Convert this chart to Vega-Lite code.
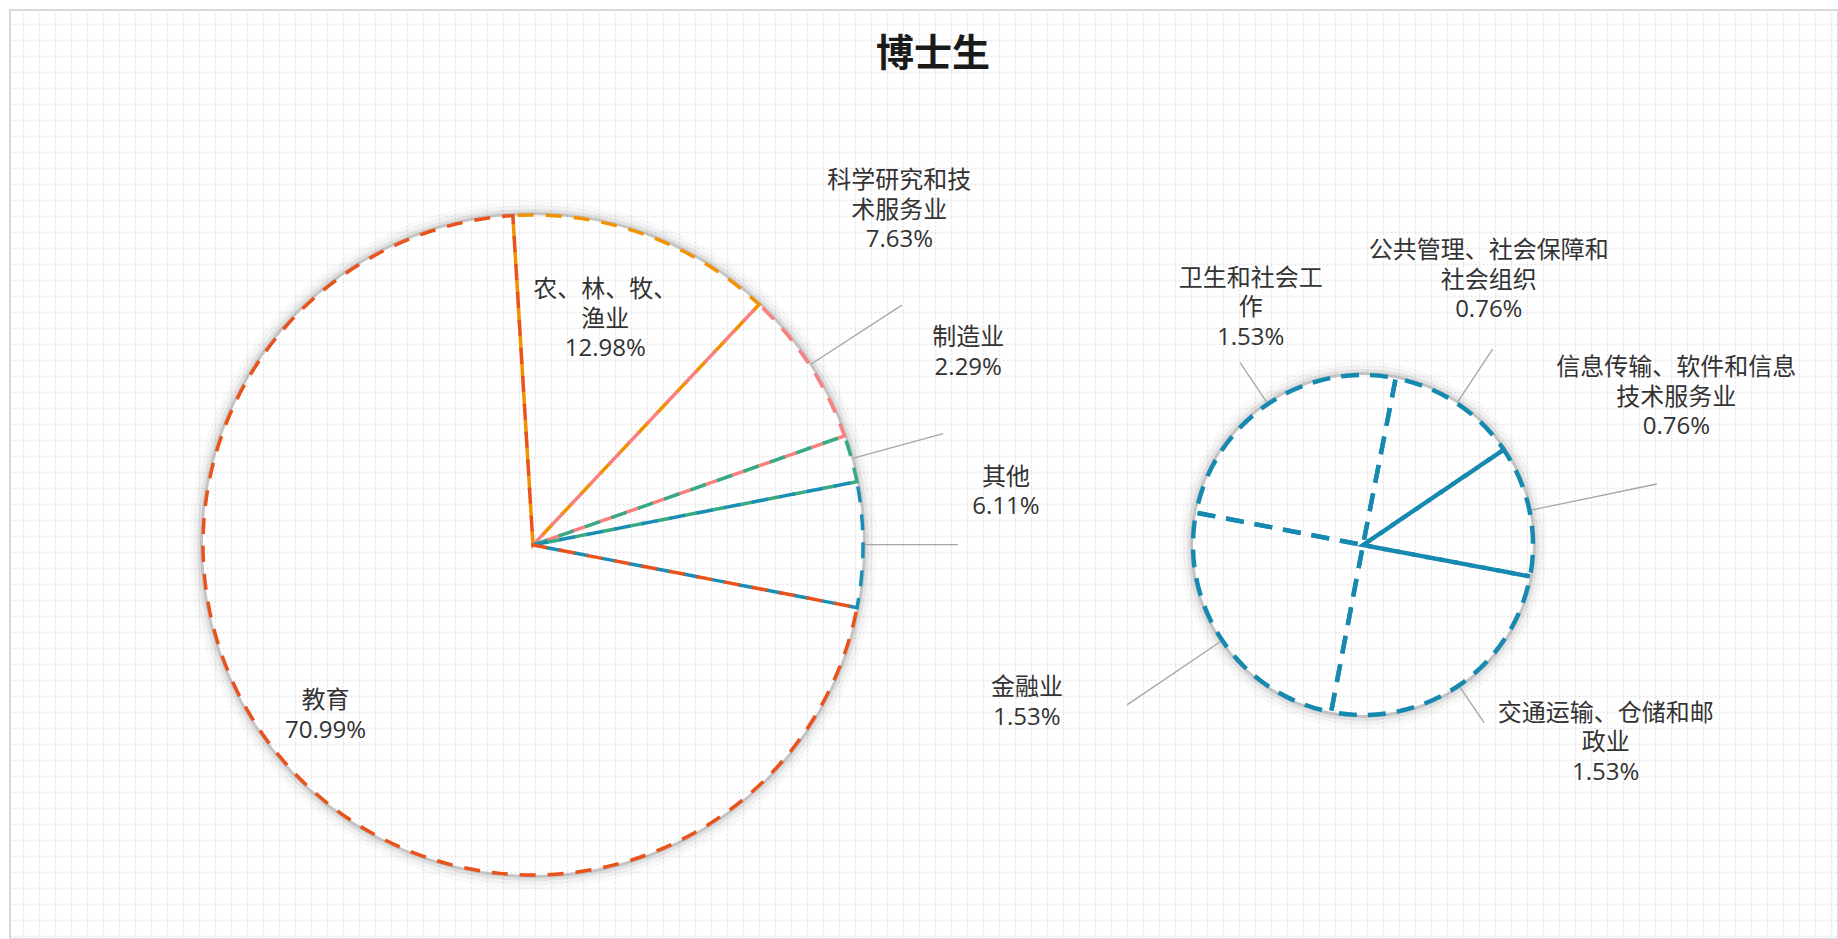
{
  "$schema": "https://vega.github.io/schema/vega-lite/v6.json",
  "width": 1828,
  "height": 929,
  "autosize": {"type": "none"},
  "padding": {"left": 10, "top": 10, "right": 0, "bottom": 0},
  "background": "white",
  "config": {"view": {"stroke": "#d9d9d9", "strokeWidth": 2}},
  "title": {
    "text": "博士生",
    "font": "Noto Sans CJK SC",
    "fontSize": 38,
    "fontWeight": "bold",
    "color": "#1a1a1a",
    "anchor": "middle",
    "offset": -64,
    "dx": 9
  },
  "data": {
    "values": [
      {"饼图": "主", "序": 1, "行业": "农、林、牧、\n渔业", "占比": 0.1298},
      {"饼图": "主", "序": 2, "行业": "科学研究和技\n术服务业", "占比": 0.0763},
      {"饼图": "主", "序": 3, "行业": "制造业", "占比": 0.0229},
      {"饼图": "主", "序": 4, "行业": "其他", "占比": 0.0611},
      {"饼图": "主", "序": 5, "行业": "教育", "占比": 0.7099},
      {"饼图": "子", "序": 1, "行业": "公共管理、社会保障和\n社会组织", "占比": 0.0076},
      {"饼图": "子", "序": 2, "行业": "信息传输、软件和信息\n技术服务业", "占比": 0.0076},
      {"饼图": "子", "序": 3, "行业": "交通运输、仓储和邮\n政业", "占比": 0.0153},
      {"饼图": "子", "序": 4, "行业": "金融业", "占比": 0.0153},
      {"饼图": "子", "序": 5, "行业": "卫生和社会工\n作", "占比": 0.0153}
    ]
  },
  "resolve": {"scale": {"x": "independent", "y": "independent", "theta": "independent", "color": "independent"}},
  "layer": [
    {
      "mark": {"type": "point", "opacity": 0},
      "encoding": {
        "x": {"datum": 0, "type": "quantitative", "scale": {"domain": [-0.79, 113.46], "nice": false, "zero": false},
              "axis": {"grid": true, "gridColor": "#e6e6e6", "gridDash": [2, 2], "gridWidth": 1.5, "tickCount": 115, "labels": false, "ticks": false, "domain": false, "title": null, "minExtent": 0, "maxExtent": 0, "offset": 0}},
        "y": {"datum": 0, "type": "quantitative", "scale": {"domain": [-0.875, 57.1875], "nice": false, "zero": false, "reverse": true},
              "axis": {"grid": true, "gridColor": "#e6e6e6", "gridDash": [2, 2], "gridWidth": 1.5, "tickCount": 60, "labels": false, "ticks": false, "domain": false, "title": null, "minExtent": 0, "maxExtent": 0, "offset": 0}}
      }
    },
    {
      "transform": [{"filter": "datum['饼图'] === '主'"}],
      "encoding": {
        "x": {"field": "饼图", "type": "nominal", "scale": {"domain": ["主", "子"], "padding": 0.601205, "align": 0.52405}, "axis": null},
        "y": {"datum": "饼", "type": "nominal", "scale": {"domain": ["饼"], "padding": 0, "align": 0.5759}, "axis": null},
        "theta": {"field": "占比", "type": "quantitative", "stack": true, "scale": {"domain": [0, 1], "range": [-0.0611, 6.2221], "nice": false, "zero": true}},
        "order": {"field": "序", "type": "quantitative"}
      },
      "layer": [
        {"mark": {"type": "arc", "innerRadius": 330, "outerRadius": 333, "fill": "#7f7f7f", "opacity": 0.45}},
        {"mark": {"type": "arc", "innerRadius": 333, "outerRadius": 336, "fill": "#8c8c8c", "opacity": 0.25}},
        {"mark": {"type": "arc", "innerRadius": 336, "outerRadius": 340, "fill": "#999999", "opacity": 0.13}},
        {"mark": {"type": "arc", "innerRadius": 340, "outerRadius": 344, "fill": "#aaaaaa", "opacity": 0.06}},
        {
          "mark": {"type": "arc", "filled": false, "outerRadius": 330, "strokeWidth": 3.5, "strokeDash": [16, 12],
                   "strokeDashOffset": {"expr": "[3.87, 2.79, 1.52, 6.31, 5.06][datum['序'] - 1]"}},
          "encoding": {
            "color": {"field": "行业", "type": "nominal",
                      "scale": {"domain": ["农、林、牧、\n渔业", "科学研究和技\n术服务业", "制造业", "其他", "教育"],
                                "range": ["#F39200", "#FA8080", "#39A984", "#1A8DB5", "#E9521B"]},
                      "legend": null}
          }
        },
        {
          "mark": {"type": "arc", "filled": false, "innerRadius": 332, "padAngle": 3.1416, "stroke": "#a6a6a6", "strokeWidth": 1.3,
                   "outerRadius": {"expr": "[0, 440, 425, 425, 0][datum['序'] - 1]"}},
          "encoding": {"strokeOpacity": {"condition": {"test": "datum['占比'] > 0.1", "value": 0}, "value": 1}}
        },
        {
          "mark": {"type": "text", "font": "Open Sans, Noto Sans CJK SC", "fontSize": 24, "lineHeight": 29.5, "lineBreak": "\n",
                   "align": "center", "baseline": "middle", "fill": "#333333",
                   "radius": {"expr": "[213, 437, 451, 473, 276][datum['序'] - 1]"},
                   "dy": {"expr": "[-25, -96, -74, -52, -11][datum['序'] - 1] - (indexof(datum['行业'], '\\n') >= 0 ? 29.5 : 14.75)"},
                   "text": {"expr": "datum['行业'] + '\\n' + format(datum['占比'], '.2%')"}}
        }
      ]
    },
    {
      "transform": [{"filter": "datum['饼图'] === '子'"}],
      "encoding": {
        "x": {"field": "饼图", "type": "nominal", "scale": {"domain": ["主", "子"], "padding": 0.601205, "align": 0.52405}, "axis": null},
        "y": {"datum": "饼", "type": "nominal", "scale": {"domain": ["饼"], "padding": 0, "align": 0.5759}, "axis": null},
        "theta": {"field": "占比", "type": "quantitative", "stack": true, "scale": {"domain": [0, 0.0611], "range": [0.1937, 6.4769], "nice": false, "zero": true}},
        "order": {"field": "序", "type": "quantitative"}
      },
      "layer": [
        {"mark": {"type": "arc", "innerRadius": 170, "outerRadius": 173, "fill": "#7f7f7f", "opacity": 0.45}},
        {"mark": {"type": "arc", "innerRadius": 173, "outerRadius": 176, "fill": "#8c8c8c", "opacity": 0.25}},
        {"mark": {"type": "arc", "innerRadius": 176, "outerRadius": 180, "fill": "#999999", "opacity": 0.13}},
        {"mark": {"type": "arc", "innerRadius": 180, "outerRadius": 184, "fill": "#aaaaaa", "opacity": 0.06}},
        {"mark": {"type": "arc", "filled": false, "outerRadius": 170, "stroke": "#1689B1", "strokeWidth": 4.4, "strokeDash": [18, 11],
                  "strokeDashOffset": {"expr": "[10.64, 25.14, 21.03, 21.03, 21.03][datum['序'] - 1]"}}},
        {
          "mark": {"type": "arc", "filled": false, "innerRadius": 172, "padAngle": 3.1416, "stroke": "#a6a6a6", "strokeWidth": 1.3,
                   "outerRadius": {"expr": "[235, 300, 215, 285, 220][datum['序'] - 1]"}}
        },
        {
          "mark": {"type": "text", "font": "Open Sans, Noto Sans CJK SC", "fontSize": 24, "lineHeight": 29.5, "lineBreak": "\n",
                   "align": "center", "baseline": "middle", "fill": "#333333",
                   "dy": {"expr": "[-74, -82, -158, -70, -70][datum['序'] - 1] - (indexof(datum['行业'], '\\n') >= 0 ? 29.5 : 14.75)"},
                   "radius": {"expr": "[228, 320, 431, 406, 201][datum['序'] - 1]"},
                   "text": {"expr": "datum['行业'] + '\\n' + format(datum['占比'], '.2%')"}}
        }
      ]
    }
  ]
}
